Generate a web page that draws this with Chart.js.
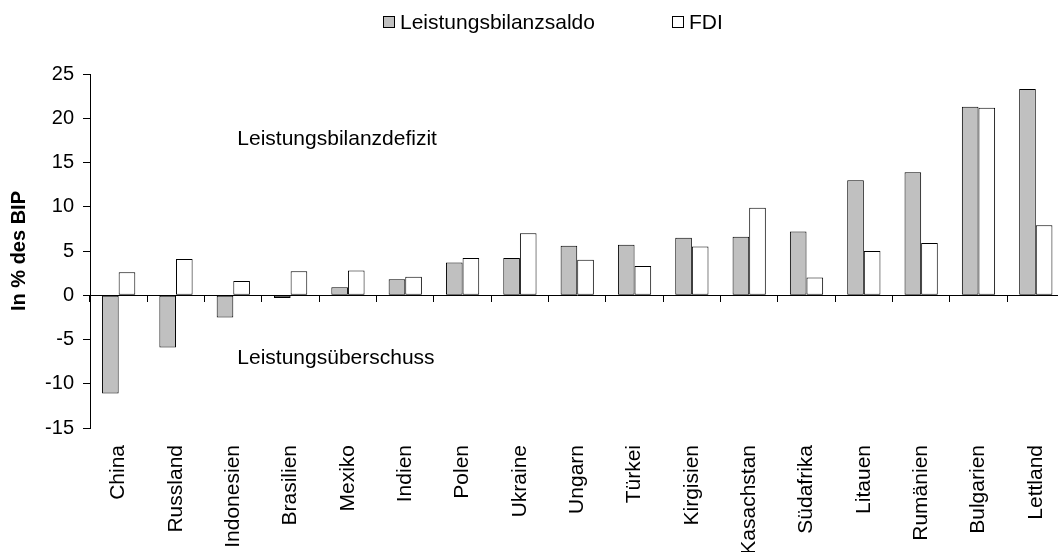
<!DOCTYPE html>
<html>
<head>
<meta charset="utf-8">
<script src="https://cdn.jsdelivr.net/npm/chart.js@4.4.1/dist/chart.umd.min.js"></script>
<style>
  html, body { margin: 0; padding: 0; background: #fff; overflow: hidden; }
  #wrap { position: relative; width: 1058px; height: 552px; overflow: hidden; }
  #myChart { position: absolute; left: 0; top: 0; }
  .lg { position: absolute; top: 10px; font: 21px "Liberation Sans", Arial, sans-serif; line-height: 24px; color: #000; white-space: nowrap; }
  .lg i { display: inline-block; width: 10px; height: 10px; border: 1px solid #000; margin-right: 5px; vertical-align: 1px; }
</style>
</head>
<body>
<div id="wrap">
  <canvas id="myChart" width="1070" height="560"></canvas>
  <div id="legend"></div>
</div>
<script>
// data
let countries = ['China', 'Russland', 'Indonesien', 'Brasilien', 'Mexiko', 'Indien', 'Polen', 'Ukraine', 'Ungarn', 'Türkei', 'Kirgisien', 'Kasachstan', 'Südafrika', 'Litauen', 'Rumänien', 'Bulgarien', 'Lettland']
let saldo = [-11.1, -5.9, -2.5, -0.3, 0.9, 1.8, 3.7, 4.2, 5.6, 5.7, 6.5, 6.6, 7.2, 13.0, 13.9, 21.3, 23.3]
let fdi = [2.6, 4.1, 1.6, 2.7, 2.8, 2.1, 4.2, 7.0, 4.0, 3.3, 5.5, 9.9, 2.0, 5.0, 5.9, 21.2, 7.9]
let yMin = -15
let yMax = 25
let yStep = 5

let font = '"Liberation Sans", Arial, sans-serif'
Chart.defaults.font.family = font
Chart.defaults.color = '#000'

// text notes inside the plot
let notesPlugin = {
    id: 'notes',
    afterDatasetsDraw(chart) {
        let c = chart.ctx;
        let x = chart.scales.x.getPixelForValue(2) + 4;
        c.save();
        c.font = '21px ' + font;
        c.fillStyle = '#000';
        c.textAlign = 'left';
        c.textBaseline = 'middle';
        c.fillText('Leistungsbilanzdefizit', x, chart.scales.y.getPixelForValue(17.6));
        c.fillText('Leistungsüberschuss', x, chart.scales.y.getPixelForValue(-7.1));
        c.restore();
    }
};

let ctx = document.getElementById('myChart');
let chart = new Chart(ctx, {
    type: 'bar',
    data: {
        labels: countries,
        datasets: [{
            label: 'Leistungsbilanzsaldo',
            data: saldo,
            backgroundColor: '#c0c0c0',
            borderColor: '#000',
            borderWidth: 1,
            borderSkipped: false,
            xAxisID: 'x'
        }, {
            label: 'FDI',
            data: fdi,
            backgroundColor: '#ffffff',
            borderColor: '#000',
            borderWidth: 1,
            borderSkipped: false,
            xAxisID: 'x'
        }]
    },
    options: {
        responsive: false,
        animation: false,
        categoryPercentage: 0.58,
        barPercentage: 1,
        layout: { padding: { top: 74, left: 0, right: 0, bottom: 0 } },
        plugins: {
            legend: { display: false },
            tooltip: { enabled: false }
        },
        scales: {
            x: {
                type: 'category',
                position: 'bottom',
                offset: true,
                grid: { display: false, offset: true },
                border: { display: false },
                ticks: {
                    minRotation: 90,
                    maxRotation: 90,
                    padding: 9,
                    autoSkip: false,
                    font: { size: 21 }
                },
                afterFit(s) { s.height = 132; }
            },
            x0: {
                type: 'category',
                position: { y: 0 },
                offset: true,
                grid: { offset: true, drawOnChartArea: false, drawTicks: true, tickLength: 6, color: '#000' },
                border: { display: true, color: '#000', width: 1 },
                ticks: { display: false }
            },
            y: {
                min: yMin,
                max: yMax,
                ticks: { stepSize: yStep, padding: 9, font: { size: 20 } },
                grid: { drawOnChartArea: false, drawTicks: true, tickLength: 7, color: '#000' },
                border: { display: true, color: '#000', width: 1 },
                title: {
                    display: true,
                    text: 'In % des BIP',
                    font: { size: 20, weight: 'bold' },
                    padding: { top: 7, bottom: 0 }
                },
                afterFit(s) { s.width = 90; }
            }
        }
    },
    plugins: [notesPlugin]
});

// legend
let legend = document.getElementById('legend');
let legendLeft = [383, 672];
chart.data.datasets.forEach((ds, i) => {
    let item = document.createElement('span');
    item.className = 'lg';
    item.style.left = legendLeft[i] + 'px';
    item.innerHTML = `<i style="background:${ds.backgroundColor}"></i>${ds.label}`;
    legend.appendChild(item);
});
</script>
</body>
</html>
